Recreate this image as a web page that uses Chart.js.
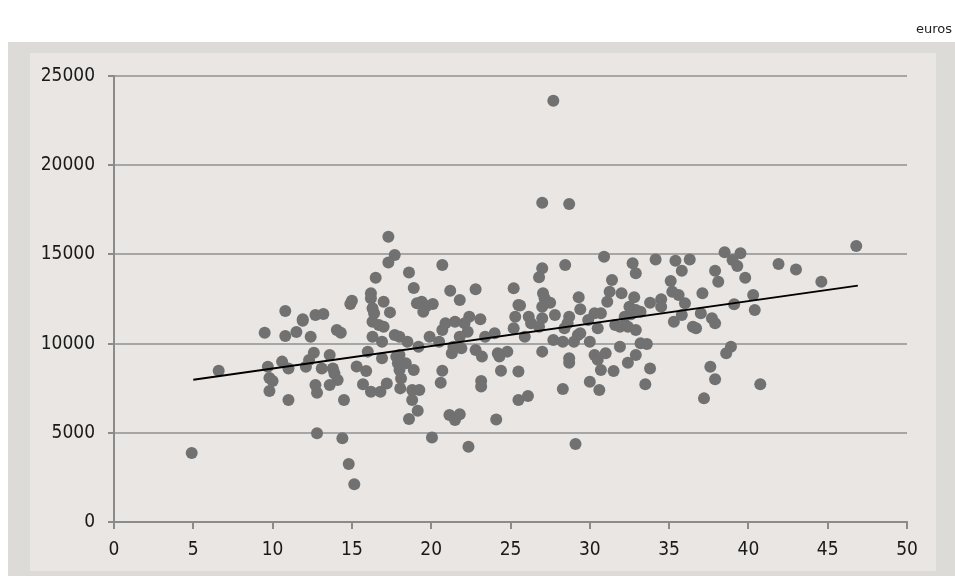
<!DOCTYPE html>
<html>
<head>
<meta charset="utf-8">
<script src="https://cdn.jsdelivr.net/npm/chart.js@4.4.0/dist/chart.umd.min.js"></script>
<style>
  body { margin: 0; background: #fff; }
  #wrap { position: relative; width: 955px; height: 576px; }
  #unit { position: absolute; right: 3px; top: 21px; font: 13px "DejaVu Sans", sans-serif; color: #222; }
</style>
</head>
<body>
<div id="wrap">
  <canvas id="chart" width="955" height="576"></canvas>
  <div id="unit">euros</div>
</div>
<script>
const xValues = [
  4.9, 6.6, 9.5, 10.8, 11.5, 11.9, 12.4, 9.7, 9.8, 10.0, 9.8, 10.6, 11.0, 11.0, 12.1, 12.3, 12.6, 12.7, 12.8, 12.8,
  10.8, 11.9, 12.7, 17.3, 17.7, 17.3, 16.5, 18.6, 18.9, 20.7, 21.2, 21.8, 22.8, 25.2, 25.5, 25.3, 25.2, 16.2, 16.2, 16.3,
  16.4, 16.3, 16.7, 17.0, 17.0, 17.4, 14.9, 15.0, 13.2, 14.05, 14.3, 13.6, 16.3, 16.9, 17.7, 18.0, 18.5, 19.2, 19.1, 19.4,
  19.7, 20.1, 19.5, 19.9, 20.5, 20.9, 21.5, 22.1, 22.4, 22.3, 21.8, 20.7, 23.1, 23.4, 24.0, 22.8, 21.3, 24.2, 24.8, 16.0,
  18.0, 13.1, 13.8, 13.9, 14.1, 13.6, 14.5, 14.4, 14.8, 15.15, 15.3, 15.9, 15.7, 16.2, 16.8, 17.2, 16.9, 17.8, 18.0, 18.1,
  18.05, 17.9, 18.4, 18.9, 18.8, 19.25, 18.8, 19.15, 18.6, 20.05, 20.7, 20.6, 21.4, 21.9, 21.15, 21.5, 21.8, 22.35, 23.15, 23.15,
  23.2, 24.3, 24.4, 24.1, 25.5, 25.5, 27.7, 27.0, 28.7, 30.9, 34.15, 35.4, 36.3, 35.8, 32.7, 32.9, 28.45, 27.0, 26.8, 37.9,
  38.1, 35.1, 31.4, 35.2, 35.6, 36.0, 37.1, 27.05, 27.15, 27.5, 27.0, 29.3, 31.25, 32.0, 31.1, 32.8, 33.8, 34.5, 34.5, 25.6,
  26.15, 26.3, 27.0, 27.8, 28.7, 29.4, 30.3, 30.7, 32.5, 32.9, 32.6, 33.2, 32.2, 26.8, 28.4, 28.6, 29.9, 30.5, 31.6, 31.9,
  32.4, 32.9, 35.8, 35.3, 36.5, 36.7, 37.0, 37.7, 37.9, 25.9, 27.7, 28.3, 29.25, 30.0, 31.9, 33.2, 33.6, 31.0, 27.0, 30.3,
  32.9, 28.7, 26.1, 28.7, 28.3, 29.1, 30.5, 30.7, 30.0, 30.6, 31.5, 32.4, 33.8, 33.5, 37.6, 37.9, 37.2, 29.4, 29.0, 46.8,
  38.5, 39.5, 39.0, 39.3, 39.8, 41.9, 43.0, 44.6, 40.3, 40.4, 39.1, 38.9, 38.6, 40.75
];
const yValues = [
  3870, 8480, 10610, 10420, 10650, 11280, 10390, 8700, 8070, 7900, 7340, 8990, 8610, 6840, 8700, 9080, 9490, 7680, 7250, 4970,
  11830, 11360, 11600, 15990, 14960, 14550, 13690, 13990, 13110, 14400, 12960, 12440, 13040, 13100, 12160, 11500, 10860, 12820, 12540, 11980,
  11700, 11230, 11040, 10950, 12350, 11750, 12220, 12400, 11660, 10760, 10610, 9360, 10390, 10110, 10480, 10390, 10110, 9830, 12260, 12350,
  12110, 12220, 11790, 10390, 10110, 11140, 11230, 11140, 11510, 10670, 10390, 10760, 11360, 10390, 10580, 9640, 9460, 9460, 9550, 9550,
  9360, 8600, 8610, 8330, 7960, 7680, 6840, 4690, 3250, 2110, 8710, 8460, 7720, 7300, 7300, 7770, 9180, 9270, 8520, 8050,
  7490, 8900, 8900, 8520, 7400, 7400, 6840, 6240, 5770, 4730, 8480, 7810, 9830, 9740, 6000, 5720, 6040, 4220, 7900, 7590,
  9270, 9270, 8480, 5750, 8430, 6840, 23610, 17900, 17820, 14870, 14720, 14650, 14720, 14090, 14500, 13940, 14400, 14220, 13720, 14090,
  13470, 13510, 13560, 12910, 12720, 12260, 12820, 12820, 12540, 12290, 12070, 12600, 12910, 12820, 12350, 12600, 12290, 12480, 12070, 12130,
  11510, 11140, 11420, 11600, 11510, 11920, 11700, 11700, 12070, 11880, 11650, 11790, 11510, 10950, 10860, 11140, 11320, 10860, 11040, 10950,
  10950, 10760, 11600, 11230, 10950, 10860, 11700, 11420, 11140, 10390, 10200, 10110, 10480, 10110, 9830, 10020, 9980, 9460, 9550, 9360,
  9360, 9180, 7060, 8930, 7450, 4370, 9100, 8520, 7860, 7400, 8460, 8930, 8610, 7720, 8700, 8000, 6930, 10580, 10110, 15470,
  15120, 15060, 14690, 14350, 13690, 14460, 14160, 13470, 12720, 11880, 12200, 9830, 9460, 7720
];
// fitted trend line end points
const trendX = [5, 46.9];
const trendY = [7980, 13250];

const xTicks = { min: 0, max: 50, step: 5 };
const yTicks = { min: 0, max: 25000, step: 5000 };

const points = xValues.map((x, i) => ({ x, y: yValues[i] }));
const trend = trendX.map((x, i) => ({ x, y: trendY[i] }));

const tickFont = { family: '"Liberation Sans Narrow", "DejaVu Sans Condensed", "Liberation Sans", sans-serif', size: 19 };
const axisGray = '#8b8b8b';

const panelBackground = {
  id: 'panelBackground',
  beforeDraw (chart) {
    const ctx = chart.ctx;
    ctx.save();
    ctx.fillStyle = '#dddbd7';
    ctx.fillRect(8, 42, 947, 534);
    ctx.fillStyle = '#e9e6e3';
    ctx.fillRect(30, 53, 906, 518);
    ctx.restore();
  },
};

new Chart(document.getElementById('chart').getContext('2d'), {
  type: 'scatter',
  data: {
    datasets: [{
      type: 'line',
      data: trend,
      borderColor: '#000',
      borderWidth: 2,
      pointRadius: 0,
      order: 0,
    }, {
      data: points,
      backgroundColor: '#717171',
      borderWidth: 0,
      pointRadius: 6,
      order: 1,
    }],
  },
  options: {
    responsive: false,
    devicePixelRatio: 1,
    animation: false,
    layout: { padding: { top: 76, right: 48, left: 0, bottom: 0 } },
    plugins: {
      legend: { display: false },
      tooltip: { enabled: false },
    },
    scales: {
      x: {
        type: 'linear',
        min: xTicks.min,
        max: xTicks.max,
        afterFit: s => { s.height = 54 },
        ticks: { stepSize: xTicks.step, color: '#1a1a1a', font: tickFont, padding: 10, callback: v => v },
        grid: { drawOnChartArea: false, drawTicks: true, tickLength: 7, color: axisGray, lineWidth: 2 },
        border: { color: axisGray, width: 2 },
      },
      y: {
        min: yTicks.min,
        max: yTicks.max,
        afterFit: s => { s.width = 114 },
        ticks: { stepSize: yTicks.step, color: '#1a1a1a', font: tickFont, padding: 13, callback: v => v },
        grid: { color: '#a6a6a6', lineWidth: 2, tickLength: 6, tickColor: axisGray },
        border: { color: axisGray, width: 2 },
      },
    },
  },
  plugins: [panelBackground],
})
</script>
</body>
</html>
